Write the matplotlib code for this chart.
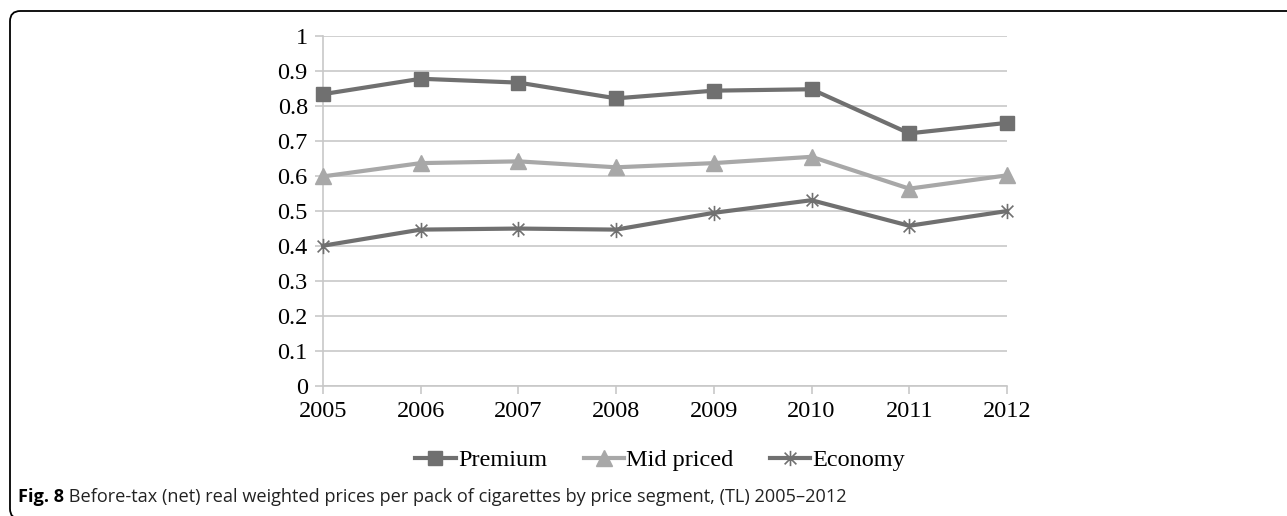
import numpy as np
import matplotlib
matplotlib.use("Agg")
import matplotlib.pyplot as plt
from matplotlib.path import Path
from matplotlib.patches import FancyBboxPatch

years = [2005, 2006, 2007, 2008, 2009, 2010, 2011, 2012]
premium = [0.833, 0.877, 0.866, 0.821, 0.843, 0.847, 0.721, 0.751]
mid_priced = [0.598, 0.636, 0.641, 0.624, 0.636, 0.654, 0.563, 0.601]
economy = [0.400, 0.446, 0.449, 0.446, 0.494, 0.530, 0.457, 0.499]
yticks = [0, 0.1, 0.2, 0.3, 0.4, 0.5, 0.6, 0.7, 0.8, 0.9, 1]
ytick_labels = ["0", "0.1", "0.2", "0.3", "0.4", "0.5", "0.6", "0.7", "0.8", "0.9", "1"]

# excel-style star: an X with a vertical bar
star = Path([(-1, -1), (1, 1), (-1, 1), (1, -1), (0, -1.3), (0, 1.3)],
            [Path.MOVETO, Path.LINETO, Path.MOVETO, Path.LINETO, Path.MOVETO, Path.LINETO])

serif = ["Liberation Serif", "DejaVu Serif"]
fig = plt.figure(figsize=(12.87, 5.16), dpi=100)
ax = fig.add_axes([0.251, 0.2525, 0.5314, 0.6783])

dark = "#707070"
light = "#a8a8a8"
ax.plot(years, premium, '-', color=dark, lw=3, marker='s', ms=10, mec=dark, mfc=dark,
        label="Premium", clip_on=False, zorder=4)
ax.plot(years, mid_priced, '-', color=light, lw=3, marker='^', ms=11, mec=light, mfc=light,
        label="Mid priced", clip_on=False, zorder=4)
ax.plot(years, economy, '-', color=dark, lw=3, marker=star, ms=11, mec=dark, mew=1.2,
        mfc='none', label="Economy", clip_on=False, zorder=4)

ax.set_xlim(years[0], years[-1])
ax.set_ylim(0, 1)
ax.set_xticks(years)
ax.set_xticklabels([str(y) for y in years], fontfamily=serif, fontsize=17.5)
ax.set_yticks(yticks)
ax.set_yticklabels(ytick_labels, fontfamily=serif, fontsize=17.5)
ax.grid(axis='y', color='#c8c8c8', lw=1.2)
ax.set_axisbelow(True)
for side in ['top', 'right']:
    ax.spines[side].set_visible(False)
for side in ['left', 'bottom']:
    ax.spines[side].set_color('#c8c8c8')
    ax.spines[side].set_linewidth(1.2)
ax.tick_params(axis='both', color='#c8c8c8', width=1.2, length=6, labelcolor='black')
ax.tick_params(axis='y', pad=5)
ax.tick_params(axis='x', pad=5)

leg = fig.legend(loc='center', bbox_to_anchor=(0.513, 0.108), ncol=3, frameon=False,
                 prop={'family': serif, 'size': 17.5}, handlelength=1.65,
                 handletextpad=0.1, columnspacing=1.5)

# caption
t1 = fig.text(0.014, 0.028, "Fig. 8", fontfamily="Open Sans", fontweight='bold',
              fontsize=13.1, va='baseline', ha='left')
ax.annotate(" Before-tax (net) real weighted prices per pack of cigarettes by price segment, (TL) 2005\u20132012",
            xy=(1, 0), xycoords=t1, va='bottom', ha='left',
            fontfamily="Open Sans", fontsize=13.1, color='#222222', annotation_clip=False)

frame = FancyBboxPatch((10 / 1287, -3 / 516), 1.05, 508 / 516,
                       boxstyle="round,pad=0,rounding_size=0.008",
                       transform=fig.transFigure, fill=False, ec='black', lw=1.3,
                       clip_on=False, mutation_aspect=1287 / 516)
fig.patches.append(frame)

fig.savefig("out.png", dpi=100)
